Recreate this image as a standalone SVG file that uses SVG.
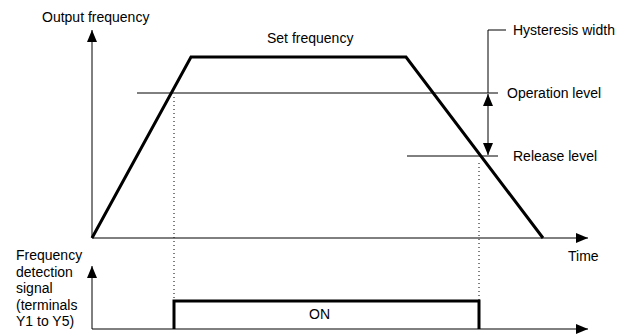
<svg xmlns="http://www.w3.org/2000/svg" width="627" height="334" viewBox="0 0 627 334">
<style>
text{font-family:"Liberation Sans",Arial,sans-serif;font-size:14px;fill:#000}
.thin{stroke:#000;stroke-width:1;fill:none}
.thick{stroke:#000;stroke-width:3;fill:none;stroke-linejoin:miter}
.dot{stroke:#000;stroke-width:1;stroke-dasharray:1,3;fill:none}
</style>
<defs>
<marker id="ah" viewBox="0 0 12 10" refX="12" refY="5" markerWidth="12" markerHeight="10" markerUnits="userSpaceOnUse" orient="auto-start-reverse">
<path d="M0,0L12,5L0,10Z" fill="#000"/>
</marker>
</defs>
<rect width="627" height="334" fill="#fff"/>
<g id="connectors">
<line class="thin" x1="92" y1="238" x2="92" y2="30" marker-end="url(#ah)"/>
<line class="thin" x1="92" y1="238" x2="588" y2="238" marker-end="url(#ah)"/>
<line class="thin" x1="92" y1="329" x2="92" y2="266" marker-end="url(#ah)"/>
<line class="thin" x1="92" y1="329" x2="588" y2="329" marker-end="url(#ah)"/>
<polyline class="thick" points="92,238 191,57 406,57 543,238"/>
<line class="thin" x1="137" y1="93" x2="498" y2="93"/>
<line class="thin" x1="407" y1="156" x2="498" y2="156"/>
<polyline class="thin" points="506,30 488,30 488,93"/>
<line class="thin" x1="488" y1="94" x2="488" y2="155" marker-start="url(#ah)" marker-end="url(#ah)"/>
<line class="dot" x1="174" y1="97" x2="174" y2="301"/>
<line class="dot" x1="479" y1="163" x2="479" y2="301"/>
<polyline class="thick" points="174,329 174,301 479,301 479,329"/>
</g>
<g id="labels">
<text x="42" y="22">Output frequency</text>
<text x="267" y="43">Set frequency</text>
<text x="513" y="35">Hysteresis width</text>
<text x="507" y="98">Operation level</text>
<text x="513" y="161">Release level</text>
<text x="568" y="261">Time</text>
<text x="309" y="319">ON</text>
<text x="16" y="260">Frequency</text>
<text x="16" y="276.5">detection</text>
<text x="16" y="293">signal</text>
<text x="16" y="309.5">(terminals</text>
<text x="16" y="326">Y1 to Y5)</text>
</g>
</svg>
